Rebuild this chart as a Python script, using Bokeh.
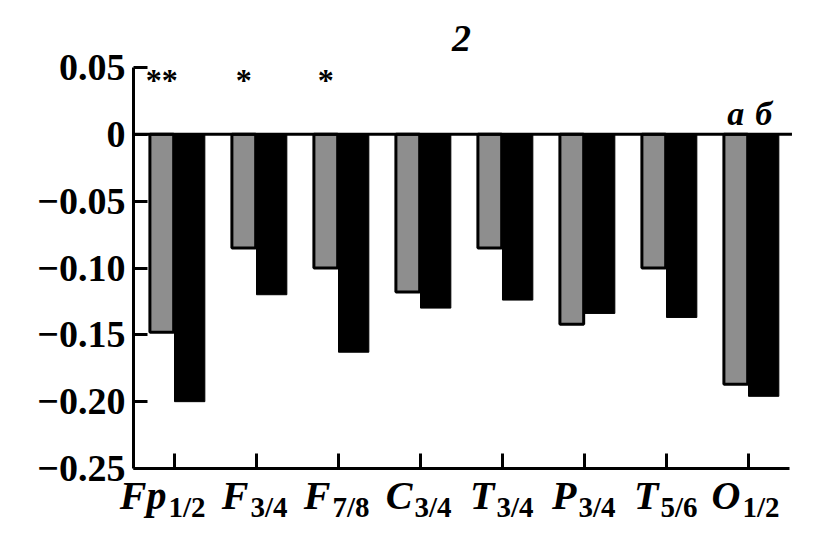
import numpy as np
from bokeh.plotting import figure
from bokeh.models import FixedTicker, Range1d
from bokeh.core.properties import value
from bokeh.embed import file_html
from bokeh.resources import INLINE

# ---- data ----
categories_main = ["Fp", "F", "F", "C", "T", "P", "T", "O"]
categories_sub = ["1/2", "3/4", "7/8", "3/4", "3/4", "3/4", "5/6", "1/2"]
series_a = [-0.148, -0.085, -0.100, -0.118, -0.085, -0.142, -0.100, -0.187]
series_b = [-0.200, -0.120, -0.163, -0.130, -0.124, -0.134, -0.137, -0.196]
significance = ["**", "*", "*", "", "", "", "", ""]
series_names = ["а", "б"]
panel_label = "2"
y_ticks = [0.05, 0.0, -0.05, -0.10, -0.15, -0.20, -0.25]
y_tick_labels = ["0.05", "0", "−0.05", "−0.10", "−0.15", "−0.20", "−0.25"]

idx = np.arange(len(categories_main))
Y_MIN, Y_MAX = min(y_ticks), max(y_ticks)
X_MIN, X_MAX = -0.5, len(idx) - 0.5

# layout (pixels): the frame also covers the label area; axes are bounded
W, H = 815, 545
FRAME_L, FRAME_R, FRAME_T, FRAME_B = 10, 800, 10, 535
AX_L, AX_R = 133, 789   # pixel columns of X_MIN and X_MAX
AX_T, AX_B = 67, 468    # pixel rows of Y_MAX and Y_MIN
ppy = (AX_B - AX_T) / (Y_MAX - Y_MIN)
ppx = (AX_R - AX_L) / (X_MAX - X_MIN)
y_hi = Y_MAX + (AX_T - FRAME_T) / ppy
y_lo = Y_MIN - (FRAME_B - AX_B) / ppy
x_lo = X_MIN - (AX_L - FRAME_L) / ppx
x_hi = X_MAX + (FRAME_R - AX_R) / ppx

SERIF = "Liberation Serif"

p = figure(width=W, height=H, output_backend="svg", toolbar_location=None,
           x_range=Range1d(x_lo, x_hi), y_range=Range1d(y_lo, y_hi),
           min_border_left=FRAME_L, min_border_top=FRAME_T,
           min_border_right=W - FRAME_R, min_border_bottom=H - FRAME_B)
p.outline_line_color = None
p.grid.visible = False
p.background_fill_color = "white"

# bars
OFF_A = -0.155
OFF_B = 0.185
p.vbar(x=idx + OFF_A, top=0, bottom=series_a, width=0.29,
       fill_color="#8e8e8e", line_color="black", line_width=3)
p.vbar(x=idx + OFF_B, top=0, bottom=series_b, width=0.37,
       fill_color="black", line_color="black", line_width=1)

# zero line
p.line(x=[X_MIN, X_MAX + 0.03], y=[0, 0], line_color="black", line_width=3)

# y axis (fixed at the left end of the category range)
yax = p.yaxis[0]
yax.ticker = FixedTicker(ticks=y_ticks)
yax.bounds = (Y_MIN, Y_MAX)
yax.fixed_location = X_MIN
yax.major_label_overrides = {t: l for t, l in zip(y_ticks, y_tick_labels)}
yax.axis_line_width = 3
yax.major_tick_line_width = 3
yax.major_tick_in = 14
yax.major_tick_out = 0
yax.minor_tick_line_color = None
yax.major_label_text_font = SERIF
yax.major_label_text_font_style = "bold"
yax.major_label_text_font_size = "38px"
yax.major_label_text_color = "black"
yax.major_label_standoff = 8

# x axis (fixed at the bottom of the data range)
xax = p.xaxis[0]
xax.ticker = FixedTicker(ticks=list(idx))
xax.bounds = (X_MIN, X_MAX)
xax.fixed_location = Y_MIN
xax.major_label_overrides = {int(i): "" for i in idx}
xax.major_label_standoff = 0
xax.axis_line_width = 3
xax.major_tick_line_width = 3
xax.major_tick_in = 15
xax.major_tick_out = 0
xax.minor_tick_line_color = None

# category labels (main letter + subscript)
p.text(x=idx, y=[Y_MIN] * len(idx), text=categories_main,
       x_offset=-8, y_offset=27, text_align="right", text_baseline="middle",
       text_font=value(SERIF), text_font_style="bold italic",
       text_font_size="40px", text_color="black")
p.text(x=idx, y=[Y_MIN] * len(idx), text=categories_sub,
       x_offset=-6, y_offset=38, text_align="left", text_baseline="middle",
       text_font=value(SERIF), text_font_style="bold",
       text_font_size="29px", text_color="black")

# significance asterisks above series a
sig_x = [i + OFF_A for i, s in zip(idx, significance) if s]
sig_t = [s for s in significance if s]
p.text(x=sig_x, y=[Y_MAX] * len(sig_x), text=sig_t,
       text_align="center", text_baseline="top", y_offset=-6,
       text_font=value(SERIF), text_font_style="bold", text_font_size="32px",
       text_color="black")

# series names above last group
last = idx[-1]
p.text(x=[last + OFF_A, last + OFF_B], y=[0, 0], text=series_names,
       text_align="center", text_baseline="middle", y_offset=-21,
       text_font=value(SERIF), text_font_style="bold italic", text_font_size="34px",
       text_color="black")

# panel number
p.text(x=[(len(idx) - 1) / 2], y=[Y_MAX], text=[panel_label],
       text_align="center", text_baseline="middle", y_offset=-29,
       text_font=value(SERIF), text_font_style="bold italic",
       text_font_size="38px", text_color="black")

open("out.html", "w").write(file_html(p, INLINE))
